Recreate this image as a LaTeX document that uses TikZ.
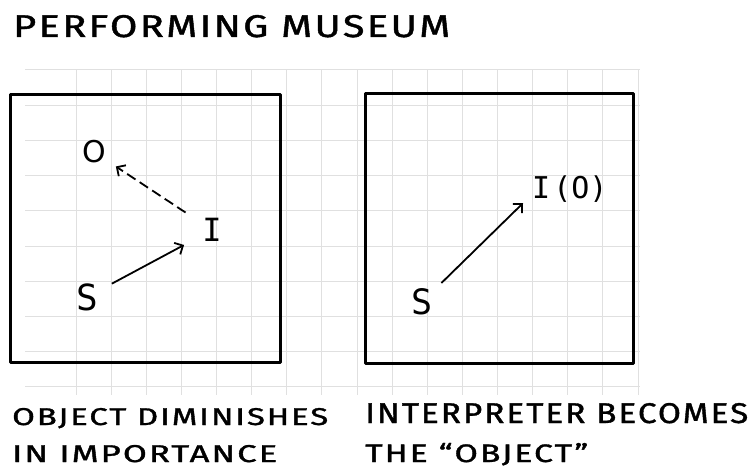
\documentclass[tikz,border=0pt]{standalone}
\usepackage{fontspec}
\setmainfont{Fira Sans}[LetterSpace=6.0, FakeBold=1.2]
\newfontfamily\monof{DejaVu Sans Mono}
\newfontfamily\roundf{DejaVu Sans}
\usetikzlibrary{arrows.meta}
\begin{document}
\begin{tikzpicture}[x=1pt,y=-1pt,
  gridline/.style={draw=black!12, line width=1pt},
  frame/.style={draw=black, line width=3pt, line join=round},
  lbl/.style={circle, inner sep=0pt, font=\monof\fontsize{30}{30}\selectfont},
  conn/.style={line width=1.8pt, -{Straight Barb[length=6.5pt,width=13pt,line width=1.8pt]}},
  captext/.style={anchor=base west, inner sep=0pt}
]
\useasboundingbox (0,0) rectangle (755,468);
\fill[white] (0,0) rectangle (755,468);
% grid
\foreach \i in {0,...,16} \draw[gridline] ({76+35.125*\i},70) -- ({76+35.125*\i},395);
\foreach \j in {0,...,9} \draw[gridline] (25,{70+35.2*\j}) -- (640,{70+35.2*\j});
% frames
\draw[frame] (10,95) rectangle (280,362);
\draw[frame] (365,94) rectangle (633,363);
% left panel
\node[lbl, minimum size=52pt, font=\roundf\fontsize{30}{30}\selectfont] (O) at (94,152) {O};
\node[lbl, minimum size=63pt, font=\monof\fontsize{32}{32}\selectfont] (I) at (212,230) {I};
\node[lbl, minimum size=56pt, font=\monof\fontsize{36}{36}\selectfont] (S) at (87,297) {S};
\draw[conn] (S) -- (I);
\draw[conn, dash pattern=on 10pt off 5pt] (I) -- (O);
% right panel
\node[lbl, minimum size=54pt, font=\monof\fontsize{35}{35}\selectfont] (S2) at (422,302) {S};
\node[anchor=base west, inner sep=0pt, font=\monof\fontsize{30}{30}\selectfont] (IO) at (532,198) {I\hspace{3pt}(O)};
\coordinate (IOtip) at ([shift={(-9,1)}]IO.south west);
\draw[conn] (S2) -- (IOtip);
% texts
\node[captext] (title) at (13,37) {\resizebox{437pt}{22pt}{PERFORMING MUSEUM}};
\node[captext] (l1) at (12,425) {\resizebox{316pt}{17pt}{OBJECT DIMINISHES}};
\node[captext] (l2) at (12,462) {\resizebox{265pt}{17pt}{IN IMPORTANCE}};
\node[captext] (r1) at (365,423) {\resizebox{383pt}{20pt}{INTERPRETER BECOMES}};
\node[captext] (r2) at (365,462) {\resizebox{223pt}{19pt}{THE “OBJECT”}};
\end{tikzpicture}
\end{document}
